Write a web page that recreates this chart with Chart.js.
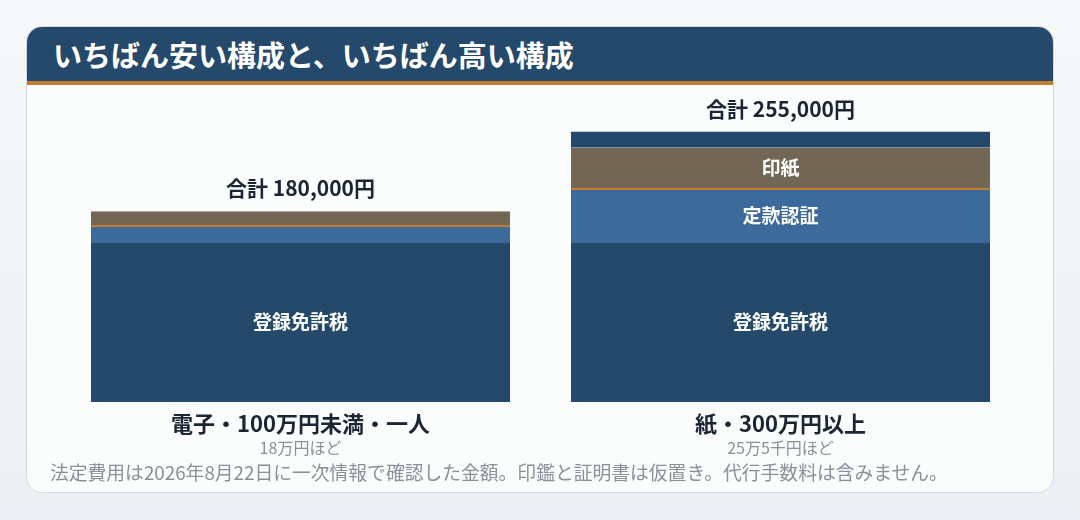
<!DOCTYPE html>
<html lang="ja">
<head>
<meta charset="utf-8">
<script src="https://cdn.jsdelivr.net/npm/chart.js@4"></script>
<style>
  html, body { margin: 0; padding: 0; }
  body {
    width: 1080px; height: 520px; overflow: hidden; position: relative;
    background: linear-gradient(#f7f8f9, #eceff3);
    font-family: "Noto Sans CJK JP", "Noto Sans", sans-serif;
  }
  .card {
    position: absolute; left: 26px; top: 26px; width: 1026px; height: 465px;
    background: #fbfcfc; border: 1px solid #d3dae4; border-radius: 16px;
    overflow: hidden;
  }
  .card h1 {
    margin: 0; height: 54px; line-height: 54px; padding-left: 26px;
    background: #25496b; color: #fff; font-size: 29px; font-weight: 700;
    border-bottom: 4px solid #c27d2e;
  }
  .note {
    position: absolute; left: 50px; top: 458px; color: #8a9099; font-size: 18.8px;
    white-space: nowrap;
  }
  #wrap { position: absolute; left: 26px; top: 84px; width: 1028px; height: 376px; }
</style>
</head>
<body>
<div class="card"><h1>いちばん安い構成と、いちばん高い構成</h1></div>
<div id="wrap"><canvas id="costChart"></canvas></div>
<div class="note">法定費用は2026年8月22日に一次情報で確認した金額。印鑑と証明書は仮置き。代行手数料は含みません。</div>
<script>
// 構成ごとの費用（円）
const categories = ['電子・100万円未満・一人', '紙・300万円以上'];
const subLabels = ['18万円ほど', '25万5千円ほど'];
const seriesNames = ['登録免許税', '定款認証', '印紙', '印鑑・証明書'];
const registrationTax = [150000, 150000];
const notaryFee = [15000, 50000];
const stampDuty = [0, 40000];
const sealAndCerts = [15000, 15000];

const NAVY = '#25496b', BLUE = '#3c6a9a', BROWN = '#726654', ORANGE = '#c27d2e';

function bottomLine(ctx) {
  var v = ctx.raw;
  return { top: 0, left: 0, right: 0, bottom: v ? 2 : 0 };
}

var labelPlugin = {
  id: 'segLabels',
  afterDatasetsDraw(chart) {
    var ctx = chart.ctx;
    var area = chart.chartArea;
    var x = chart.scales.x, y = chart.scales.y;
    ctx.save();
    ctx.textAlign = 'center';
    ctx.textBaseline = 'middle';
    // segment names
    chart.data.datasets.forEach(function (ds, di) {
      chart.getDatasetMeta(di).data.forEach(function (bar) {
        var h = bar.base - bar.y;
        if (h > 30) {
          ctx.fillStyle = '#ffffff';
          ctx.font = '700 19px "Noto Sans CJK JP"';
          ctx.fillText(ds.label, bar.x, (bar.y + bar.base) / 2 - 1);
        }
      });
    });
    // totals and category labels
    categories.forEach(function (cat, i) {
      var total = registrationTax[i] + notaryFee[i] + stampDuty[i] + sealAndCerts[i];
      var cx = x.getPixelForValue(i);
      ctx.fillStyle = '#1c2533';
      ctx.font = '700 21px "Noto Sans CJK JP"';
      ctx.fillText('合計 ' + total.toLocaleString('en-US') + '円', cx, y.getPixelForValue(total) - 23);
      ctx.font = '700 22px "Noto Sans CJK JP"';
      ctx.fillText(cat, cx, area.bottom + 22);
      ctx.fillStyle = '#8a9099';
      ctx.font = '16px "Noto Sans CJK JP"';
      ctx.fillText(subLabels[i], cx, area.bottom + 46);
    });
    ctx.restore();
  }
};

new Chart(document.getElementById('costChart'), {
  type: 'bar',
  data: {
    labels: categories,
    datasets: [
      { label: seriesNames[0], data: registrationTax, backgroundColor: NAVY },
      { label: seriesNames[1], data: notaryFee, backgroundColor: BLUE },
      { label: seriesNames[2], data: stampDuty, backgroundColor: BROWN,
        borderColor: ORANGE, borderWidth: bottomLine, borderSkipped: false },
      { label: seriesNames[3], data: sealAndCerts, backgroundColor: [BROWN, NAVY],
        borderColor: ORANGE, borderWidth: function (c) { return c.dataIndex === 0 ? bottomLine(c) : 0; },
        borderSkipped: false }
    ]
  },
  options: {
    responsive: true,
    maintainAspectRatio: false,
    animation: false,
    layout: { padding: { left: 34.5, right: 33.5, top: 0, bottom: 58 } },
    datasets: { bar: { categoryPercentage: 1, barPercentage: 0.873 } },
    plugins: { legend: { display: false }, tooltip: { enabled: false } },
    scales: {
      x: { stacked: true, display: false },
      y: { stacked: true, display: false, min: 0, max: 300000 }
    }
  },
  plugins: [labelPlugin]
});
</script>
</body>
</html>
